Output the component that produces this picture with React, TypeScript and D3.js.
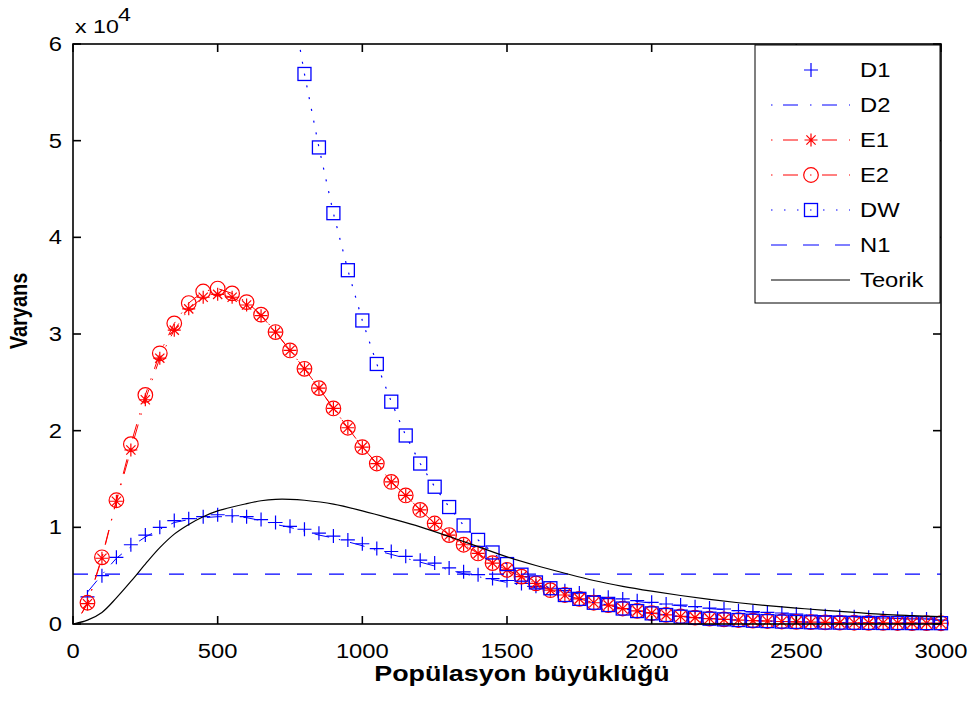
import React from 'react';
import * as d3 from 'd3';

// ---- data ----
const popSize = [50, 100, 150, 200, 250, 300, 350, 400, 450, 500, 550, 600, 650, 700, 750, 800, 850, 900, 950, 1000, 1050, 1100, 1150, 1200, 1250, 1300, 1350, 1400, 1450, 1500, 1550, 1600, 1650, 1700, 1750, 1800, 1850, 1900, 1950, 2000, 2050, 2100, 2150, 2200, 2250, 2300, 2350, 2400, 2450, 2500, 2550, 2600, 2650, 2700, 2750, 2800, 2850, 2900, 2950, 3000];

const d1 = [2800, 5000, 6900, 8200, 9200, 10000, 10700, 10900, 11100, 11300, 11200, 11100, 10800, 10500, 10100, 9800, 9400, 9100, 8700, 8300, 7800, 7500, 7000, 6600, 6300, 5800, 5400, 5100, 4700, 4500, 4200, 3900, 3700, 3450, 3200, 2950, 2760, 2590, 2410, 2240, 2070, 1960, 1790, 1650, 1550, 1380, 1270, 1210, 1140, 1030, 930, 860, 790, 760, 690, 620, 590, 520, 520, 410];

const d2 = [3300, 5100, 6800, 8000, 9000, 9800, 10500, 10800, 11000, 11100, 11100, 11000, 10700, 10300, 10000, 9600, 9200, 8900, 8500, 8100, 7600, 7200, 6800, 6400, 6000, 5600, 5200, 4900, 4600, 4300, 4000, 3750, 3550, 3300, 3100, 2850, 2680, 2500, 2330, 2160, 2000, 1880, 1720, 1590, 1480, 1330, 1220, 1160, 1090, 990, 900, 830, 760, 720, 660, 600, 560, 500, 490, 400];

const e1 = [2100, 6800, 12700, 18000, 23200, 27500, 30400, 32600, 33800, 34100, 33800, 33000, 31900, 30200, 28300, 26400, 24400, 22300, 20300, 18300, 16600, 14700, 13300, 11800, 10400, 9200, 8200, 7300, 6300, 5600, 4900, 4200, 3500, 3000, 2600, 2200, 1960, 1600, 1360, 1120, 940, 780, 660, 560, 480, 410, 350, 310, 260, 220, 190, 160, 140, 130, 120, 110, 100, 90, 85, 80];

const e2 = [2200, 6900, 12800, 18600, 23700, 28000, 31100, 33200, 34400, 34700, 34200, 33300, 32000, 30200, 28300, 26400, 24400, 22300, 20300, 18300, 16600, 14700, 13300, 11800, 10400, 9200, 8200, 7300, 6300, 5600, 4900, 4200, 3500, 3000, 2600, 2200, 1960, 1600, 1360, 1120, 940, 780, 660, 560, 480, 410, 350, 310, 260, 220, 190, 160, 140, 130, 120, 110, 100, 90, 85, 80];

// lead-in point of the E lines (line only)
const eLeadX = [30];
const eLead = [1100];

const dwX = [750, 800, 850, 900, 950, 1000, 1050, 1100, 1150, 1200, 1250, 1300, 1350, 1400, 1450, 1500, 1550, 1600, 1650, 1700, 1750, 1800, 1850, 1900, 1950, 2000, 2050, 2100, 2150, 2200, 2250, 2300, 2350, 2400, 2450, 2500, 2550, 2600, 2650, 2700, 2750, 2800, 2850, 2900, 2950, 3000];
const dw = [65500, 56900, 49300, 42500, 36600, 31400, 26900, 23000, 19500, 16600, 14200, 12100, 10200, 8700, 7400, 6200, 5100, 4300, 3700, 3000, 2600, 2200, 1960, 1600, 1340, 1100, 930, 760, 650, 550, 480, 410, 340, 300, 250, 210, 180, 150, 140, 125, 115, 105, 100, 95, 90, 85];

const n1X = [0, 3000];
const n1 = [5150, 5150];

const teorikX = [0, 50, 100, 150, 200, 250, 300, 350, 400, 450, 500, 600, 650, 700, 750, 800, 900, 1000, 1100, 1200, 1300, 1400, 1500, 1600, 1700, 1800, 1900, 2000, 2100, 2200, 2300, 2400, 2500, 2600, 2700, 2800, 2900, 3000];
const teorik = [0, 400, 1200, 2700, 4400, 6200, 7900, 9300, 10300, 11100, 11700, 12450, 12750, 12900, 12900, 12800, 12400, 11700, 10900, 10050, 9050, 8000, 6950, 6050, 5250, 4500, 3900, 3400, 2950, 2550, 2200, 1900, 1650, 1400, 1200, 1000, 870, 760];

const xTicks = [0, 500, 1000, 1500, 2000, 2500, 3000];
const yTicks = [0, 10000, 20000, 30000, 40000, 50000, 60000];
const yTickLabels = ['0', '1', '2', '3', '4', '5', '6'];
const legendLabels = ['D1', 'D2', 'E1', 'E2', 'DW', 'N1', 'Teorik'];

const BLUE = '#0000ff';
const RED = '#ff0000';
const FONT = '"Liberation Sans", Arial, Helvetica, sans-serif';

const DASHDOT = '15 10 1.5 10';
const DOTTED = '2 10';
const DASHED = '15 17';
const SX = 1.22; // horizontal stretch of the reference glyphs

type P = [number, number];
const zip = (xs: number[], ys: number[]): P[] => xs.map((x, i) => [x, ys[i]]);

function SText(props: { x: number; y: number; anchor?: string; size: number; bold?: boolean; dy?: string; sx?: number; children: React.ReactNode }) {
  const { x, y, anchor = 'start', size, bold, dy, sx = SX, children } = props;
  return (
    <text
      transform={`translate(${x},${y}) scale(${sx},1)`}
      textAnchor={anchor}
      fontSize={size}
      fontWeight={bold ? 'bold' : 'normal'}
      dy={dy}
      fill="#000"
    >
      {children}
    </text>
  );
}

function Plus({ x, y, c }: { x: number; y: number; c: string }) {
  const s = 7;
  return <path d={`M${x - s},${y}H${x + s}M${x},${y - s}V${y + s}`} stroke={c} strokeWidth={1.2} fill="none" />;
}
function Star({ x, y, c }: { x: number; y: number; c: string }) {
  const s = 6.5, d = 4.6;
  return (
    <path
      d={`M${x - s},${y}H${x + s}M${x},${y - s}V${y + s}M${x - d},${y - d}L${x + d},${y + d}M${x - d},${y + d}L${x + d},${y - d}`}
      stroke={c}
      strokeWidth={1.2}
      fill="none"
    />
  );
}
function Circ({ x, y, c }: { x: number; y: number; c: string }) {
  return <circle cx={x} cy={y} r={7.3} stroke={c} strokeWidth={1.2} fill="none" />;
}
function Sq({ x, y, c }: { x: number; y: number; c: string }) {
  const h = 6.5;
  return <rect x={x - h} y={y - h} width={2 * h} height={2 * h} stroke={c} strokeWidth={1.3} fill="none" />;
}

export default function App() {
  const W = 974, H = 701;
  const x = d3.scaleLinear().domain([0, 3000]).range([73, 941]);
  const y = d3.scaleLinear().domain([0, 60000]).range([624, 44]);
  const line = d3.line<P>().x(d => x(d[0])).y(d => y(d[1]));
  const smooth = d3.line<P>().x(d => x(d[0])).y(d => y(d[1])).curve(d3.curveCatmullRom.alpha(0.5));

  const inDomain = (p: P) => p[1] <= 60000 && p[1] >= 0;

  const d1Pts = zip(popSize, d1);
  const d2Pts = zip(popSize, d2);
  const e1Pts = zip(popSize, e1);
  const e2Pts = zip(popSize, e2);
  const eLeadPts = zip(eLeadX, eLead);
  const dwPts = zip(dwX, dw);
  const n1Pts = zip(n1X, n1);
  const tPts = zip(teorikX, teorik);

  const [x0, x1] = x.range();
  const [y0, y1] = y.range();
  const tick = 8;

  const legX0 = 755, legY0 = 45, legW = 185, legH = 258;
  const rowY = (i: number) => 70 + i * 35;
  const lx1 = 771, lx2 = 850, lm = 811, lt = 860;

  return (
    <svg width={W} height={H} style={{ position: 'absolute', left: 0, top: 0, display: 'block', background: '#fff' }} fontFamily={FONT}>
      <defs>
        <clipPath id="plotClip">
          <rect x={x0} y={y1} width={x1 - x0} height={y0 - y1} />
        </clipPath>
      </defs>
      <rect x={0} y={0} width={W} height={H} fill="#fff" />

      {/* series */}
      <g>
        {d1Pts.filter(inDomain).map((p, i) => <Plus key={'d1' + i} x={x(p[0])} y={y(p[1])} c={BLUE} />)}
      </g>
      <g clipPath="url(#plotClip)">
        <path d={line(d2Pts) || ''} stroke={BLUE} strokeWidth={1} fill="none" strokeDasharray={DASHDOT} />
        <path d={line([...eLeadPts, ...e1Pts]) || ''} stroke={RED} strokeWidth={1} fill="none" strokeDasharray={DASHDOT} />
      </g>
      <g>
        {e1Pts.filter(inDomain).map((p, i) => <Star key={'e1' + i} x={x(p[0])} y={y(p[1])} c={RED} />)}
      </g>
      <g clipPath="url(#plotClip)">
        <path d={line([...eLeadPts, ...e2Pts]) || ''} stroke={RED} strokeWidth={1} fill="none" strokeDasharray={DASHDOT} />
      </g>
      <g>
        {e2Pts.filter(inDomain).map((p, i) => <Circ key={'e2' + i} x={x(p[0])} y={y(p[1])} c={RED} />)}
      </g>
      <g clipPath="url(#plotClip)">
        <path d={line(dwPts) || ''} stroke={BLUE} strokeWidth={1.2} fill="none" strokeDasharray={DOTTED} />
      </g>
      <g>
        {dwPts.filter(inDomain).map((p, i) => <Sq key={'dw' + i} x={x(p[0])} y={y(p[1])} c={BLUE} />)}
      </g>
      <g clipPath="url(#plotClip)">
        <path d={line(n1Pts) || ''} stroke={BLUE} strokeWidth={1.2} fill="none" strokeDasharray={DASHED} />
        <path d={smooth(tPts) || ''} stroke="#000" strokeWidth={1.2} fill="none" />
      </g>

      {/* axes box */}
      <g stroke="#000" strokeWidth={1.6} fill="none">
        <rect x={x0} y={y1} width={x1 - x0} height={y0 - y1} />
        {xTicks.map(t => (
          <g key={'xt' + t}>
            <line x1={x(t)} x2={x(t)} y1={y0} y2={y0 - tick} />
            <line x1={x(t)} x2={x(t)} y1={y1} y2={y1 + tick} />
          </g>
        ))}
        {yTicks.map(t => (
          <g key={'yt' + t}>
            <line x1={x0} x2={x0 + tick} y1={y(t)} y2={y(t)} />
            <line x1={x1} x2={x1 - tick} y1={y(t)} y2={y(t)} />
          </g>
        ))}
      </g>

      {/* tick labels */}
      {xTicks.map(t => (
        <SText key={'xl' + t} x={x(t)} y={658} anchor="middle" size={19.5}>{String(t)}</SText>
      ))}
      {yTicks.map((t, i) => (
        <SText key={'yl' + t} x={62} y={y(t)} dy="0.36em" anchor="end" size={19.5}>{yTickLabels[i]}</SText>
      ))}
      <SText x={75} y={33} size={19}>x 10</SText>
      <SText x={118} y={21} size={19}>4</SText>

      {/* axis titles */}
      <SText x={522} y={681} anchor="middle" size={21.5} bold sx={1.25}>Popülasyon büyüklüğü</SText>
      <text transform={`translate(27,311) rotate(-90) scale(1,${SX})`} textAnchor="middle" fontSize={20} fontWeight="bold" fill="#000">Varyans</text>

      {/* legend */}
      <g>
        <rect x={legX0} y={legY0} width={legW} height={legH} fill="#fff" stroke="#000" strokeWidth={1} />
        {legendLabels.map((lab, i) => {
          const ry = rowY(i);
          let sample: React.ReactNode = null;
          if (lab === 'D1') sample = <Plus x={lm} y={ry} c={BLUE} />;
          if (lab === 'D2') sample = <line x1={lx1} x2={lx2} y1={ry} y2={ry} stroke={BLUE} strokeDasharray="1.5 10.5 15 12" />;
          if (lab === 'E1')
            sample = (
              <g>
                <line x1={lx1} x2={lx2} y1={ry} y2={ry} stroke={RED} strokeDasharray="1.5 10.5 15 12" />
                <Star x={lm} y={ry} c={RED} />
              </g>
            );
          if (lab === 'E2')
            sample = (
              <g>
                <line x1={lx1} x2={lx2} y1={ry} y2={ry} stroke={RED} strokeDasharray="1.5 10.5 15 12" />
                <Circ x={lm} y={ry} c={RED} />
              </g>
            );
          if (lab === 'DW')
            sample = (
              <g>
                <line x1={lx1} x2={lx2} y1={ry} y2={ry} stroke={BLUE} strokeWidth={1.2} strokeDasharray="1.5 11.5" />
                <Sq x={lm} y={ry} c={BLUE} />
              </g>
            );
          if (lab === 'N1') sample = <line x1={lx1} x2={lx2} y1={ry} y2={ry} stroke={BLUE} strokeWidth={1.2} strokeDasharray="16 16" />;
          if (lab === 'Teorik') sample = <line x1={lx1} x2={lx2} y1={ry} y2={ry} stroke="#000" strokeWidth={1.2} />;
          return (
            <g key={lab}>
              {sample}
              <SText x={lt} y={ry} dy="0.36em" size={19.5}>{lab}</SText>
            </g>
          );
        })}
      </g>
    </svg>
  );
}
